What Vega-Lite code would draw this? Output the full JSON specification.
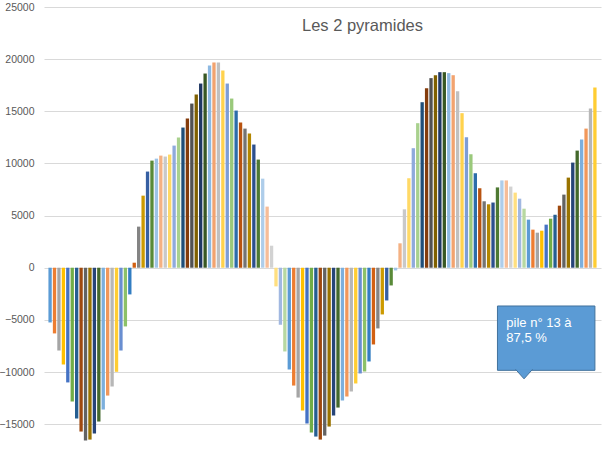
{
  "$schema": "https://vega.github.io/schema/vega-lite/v6.json",
  "width": 557,
  "height": 438,
  "autosize": {"type": "none"},
  "padding": {"left": 44, "top": 7, "right": 3, "bottom": 7},
  "background": "white",
  "config": {"view": {"stroke": null}, "font": "Liberation Sans"},
  "title": {
    "text": "Les 2 pyramides",
    "font": "Liberation Sans",
    "fontSize": 16.5,
    "fontWeight": "normal",
    "color": "#595959",
    "anchor": "middle",
    "baseline": "alphabetic",
    "offset": 0,
    "dx": 40,
    "dy": 45
  },
  "datasets": {
    "piles": [
      {"pile": 1, "valeur": -5250}, {"pile": 2, "valeur": -6300}, {"pile": 3, "valeur": -7940}, {"pile": 4, "valeur": -9280},
      {"pile": 5, "valeur": -11000}, {"pile": 6, "valeur": -12830}, {"pile": 7, "valeur": -14460}, {"pile": 8, "valeur": -15710},
      {"pile": 9, "valeur": -16580}, {"pile": 10, "valeur": -16480}, {"pile": 11, "valeur": -15900}, {"pile": 12, "valeur": -14750},
      {"pile": 13, "valeur": -13600}, {"pile": 14, "valeur": -12260}, {"pile": 15, "valeur": -11390}, {"pile": 16, "valeur": -9980},
      {"pile": 17, "valeur": -7940}, {"pile": 18, "valeur": -5630}, {"pile": 19, "valeur": -2560}, {"pile": 20, "valeur": 480},
      {"pile": 21, "valeur": 3940}, {"pile": 22, "valeur": 6910}, {"pile": 23, "valeur": 9220}, {"pile": 24, "valeur": 10270},
      {"pile": 25, "valeur": 10460}, {"pile": 26, "valeur": 10750}, {"pile": 27, "valeur": 10660}, {"pile": 28, "valeur": 10850},
      {"pile": 29, "valeur": 11710}, {"pile": 30, "valeur": 12480}, {"pile": 31, "valeur": 13440}, {"pile": 32, "valeur": 14300},
      {"pile": 33, "valeur": 15740}, {"pile": 34, "valeur": 16610}, {"pile": 35, "valeur": 17660}, {"pile": 36, "valeur": 18620},
      {"pile": 37, "valeur": 19390}, {"pile": 38, "valeur": 19680}, {"pile": 39, "valeur": 19680}, {"pile": 40, "valeur": 18910},
      {"pile": 41, "valeur": 17660}, {"pile": 42, "valeur": 16220}, {"pile": 43, "valeur": 15070}, {"pile": 44, "valeur": 13920},
      {"pile": 45, "valeur": 13340}, {"pile": 46, "valeur": 12860}, {"pile": 47, "valeur": 11810}, {"pile": 48, "valeur": 10370},
      {"pile": 49, "valeur": 8540}, {"pile": 50, "valeur": 5860}, {"pile": 51, "valeur": 2110}, {"pile": 52, "valeur": -1790},
      {"pile": 53, "valeur": -5470}, {"pile": 54, "valeur": -8030}, {"pile": 55, "valeur": -9760}, {"pile": 56, "valeur": -11300},
      {"pile": 57, "valeur": -12450}, {"pile": 58, "valeur": -13700}, {"pile": 59, "valeur": -14940}, {"pile": 60, "valeur": -15810},
      {"pile": 61, "valeur": -16190}, {"pile": 62, "valeur": -16480}, {"pile": 63, "valeur": -16100}, {"pile": 64, "valeur": -15230},
      {"pile": 65, "valeur": -14180}, {"pile": 66, "valeur": -13410}, {"pile": 67, "valeur": -12740}, {"pile": 68, "valeur": -12350},
      {"pile": 69, "valeur": -11870}, {"pile": 70, "valeur": -11100}, {"pile": 71, "valeur": -10140}, {"pile": 72, "valeur": -9950},
      {"pile": 73, "valeur": -8990}, {"pile": 74, "valeur": -7360}, {"pile": 75, "valeur": -5820}, {"pile": 76, "valeur": -4480},
      {"pile": 77, "valeur": -3140}, {"pile": 78, "valeur": -1700}, {"pile": 79, "valeur": -260}, {"pile": 80, "valeur": 2340},
      {"pile": 81, "valeur": 5600}, {"pile": 82, "valeur": 8580}, {"pile": 83, "valeur": 11460}, {"pile": 84, "valeur": 13860},
      {"pile": 85, "valeur": 15870}, {"pile": 86, "valeur": 17220}, {"pile": 87, "valeur": 18180}, {"pile": 88, "valeur": 18460},
      {"pile": 89, "valeur": 18750}, {"pile": 90, "valeur": 18750}, {"pile": 91, "valeur": 18660}, {"pile": 92, "valeur": 18460},
      {"pile": 93, "valeur": 16930}, {"pile": 94, "valeur": 14820}, {"pile": 95, "valeur": 12510}, {"pile": 96, "valeur": 10880},
      {"pile": 97, "valeur": 9060}, {"pile": 98, "valeur": 7620}, {"pile": 99, "valeur": 6370}, {"pile": 100, "valeur": 6080},
      {"pile": 101, "valeur": 6250}, {"pile": 102, "valeur": 7700}, {"pile": 103, "valeur": 8370}, {"pile": 104, "valeur": 8370},
      {"pile": 105, "valeur": 7780}, {"pile": 106, "valeur": 7200}, {"pile": 107, "valeur": 6620}, {"pile": 108, "valeur": 5660},
      {"pile": 109, "valeur": 4610}, {"pile": 110, "valeur": 3650}, {"pile": 111, "valeur": 3360}, {"pile": 112, "valeur": 3550},
      {"pile": 113, "valeur": 4130}, {"pile": 114, "valeur": 4700}, {"pile": 115, "valeur": 5090}, {"pile": 116, "valeur": 5950},
      {"pile": 117, "valeur": 7010}, {"pile": 118, "valeur": 8640}, {"pile": 119, "valeur": 10080}, {"pile": 120, "valeur": 11230},
      {"pile": 121, "valeur": 12290}, {"pile": 122, "valeur": 13340}, {"pile": 123, "valeur": 15260}, {"pile": 124, "valeur": 17280}
    ],
    "bulle": [
      {"de": 102, "a": 124, "haut": -3670, "bas": -9840, "pointe": 108, "texte_pile": 104, "texte_y": -4700, "texte": "pile n° 13 à\n87,5 %"}
    ]
  },
  "layer": [
    {
      "data": {"name": "piles"},
      "mark": {"type": "bar"},
      "encoding": {
        "x": {
          "field": "pile", "type": "ordinal",
          "scale": {"paddingInner": 0.25, "paddingOuter": 1.0},
          "axis": null
        },
        "y": {
          "field": "valeur", "type": "quantitative",
          "scale": {"domain": [-17000, 25000], "nice": false, "zero": false},
          "axis": {
            "title": null,
            "values": [-15000, -10000, -5000, 0, 5000, 10000, 15000, 20000, 25000],
            "format": "d",
            "domain": false,
            "ticks": false,
            "labelPadding": 10,
            "labelFont": "Liberation Sans",
            "labelFontSize": 10.5,
            "labelColor": "#595959",
            "gridColor": "#D9D9D9",
            "gridWidth": 1
          }
        },
        "color": {
          "field": "pile", "type": "ordinal", "legend": null,
          "scale": {"range": [
            "#5B9BD5", "#ED7D31", "#A5A5A5", "#FFC000", "#4472C4", "#70AD47",
            "#255E91", "#9E480E", "#636363", "#997300", "#264478", "#43682B",
            "#7CAFDD", "#F1975A", "#B7B7B7", "#FFCD33", "#698ED0", "#8CC168",
            "#327DC2", "#D26012", "#848484", "#CC9A00", "#365FA2", "#598A38",
            "#9DC3E6", "#F4B183", "#C9C9C9", "#FFD966", "#8FAADC", "#A9D18E",
            "#1F4E79", "#843C0C", "#525252", "#7F6000", "#203864", "#385723",
            "#8DB9E2", "#F2A36F", "#C0C0C0", "#FFD24D", "#7D9DD6", "#9AC97B",
            "#2C6DAA", "#B85310", "#747474", "#B38600", "#2C4F8D", "#4E7932",
            "#AECDEA", "#F6BD98", "#D2D2D2", "#FFDF80", "#A1B8E1", "#B7D8A1"
          ]}
        }
      }
    },
    {
      "data": {"name": "bulle"},
      "mark": {"type": "rect", "fill": "#5B9BD5", "stroke": "#41719C", "strokeWidth": 1},
      "encoding": {
        "x": {"field": "de", "type": "ordinal", "bandPosition": 0.5},
        "x2": {"field": "a"},
        "y": {"field": "haut", "type": "quantitative"},
        "y2": {"field": "bas"}
      }
    },
    {
      "data": {"name": "bulle"},
      "mark": {"type": "point", "shape": "M-1,-0.12L0,1L1,-0.12", "size": 289, "filled": true, "fill": "#5B9BD5", "stroke": "#41719C", "strokeWidth": 1, "opacity": 1},
      "encoding": {
        "x": {"field": "pointe", "type": "ordinal"},
        "y": {"field": "bas", "type": "quantitative"}
      }
    },
    {
      "data": {"name": "bulle"},
      "mark": {"type": "text", "align": "left", "baseline": "top", "lineBreak": "\n", "lineHeight": 15, "font": "Liberation Sans", "fontSize": 13, "color": "white"},
      "encoding": {
        "x": {"field": "texte_pile", "type": "ordinal"},
        "y": {"field": "texte_y", "type": "quantitative"},
        "text": {"field": "texte"}
      }
    }
  ]
}
